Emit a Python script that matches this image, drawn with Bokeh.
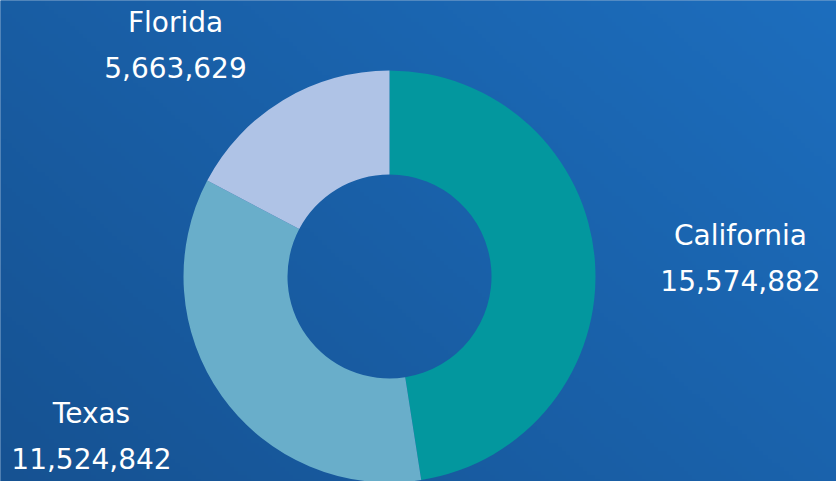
import numpy as np
from bokeh.plotting import figure
from bokeh.models import Range1d, ColumnDataSource
from bokeh.core.properties import value
from bokeh.embed import file_html
from bokeh.resources import INLINE

# ---- data ----
states = ["California", "Texas", "Florida"]
counts = [15574882, 11524842, 5663629]
colors = ["#03979E", "#69AECA", "#AFC3E6"]

# ---- layout ----
W, H = 836, 481
CX, CY = 389, H - 276
R_OUT, R_IN = 206, 102
label_pos = {"California": (740, H - 257), "Texas": (91, H - 435), "Florida": (175, H - 44)}
LINE_GAP = 22.5
FONT = "DejaVu Sans"
FSIZE = "28px"

total = float(sum(counts))
spans = [c / total * 2 * np.pi for c in counts]
starts, ends = [], []
a = np.pi / 2
for s in spans:
    starts.append(a)
    a -= s
    ends.append(a)

p = figure(width=W, height=H, output_backend="svg", toolbar_location=None,
           x_range=Range1d(0, W), y_range=Range1d(0, H), min_border=0)
p.axis.visible = False
p.grid.visible = False
p.outline_line_color = None
p.background_fill_color = "#1A5EA5"
p.border_fill_color = "#1A5EA5"

# background gradient (style only)
gx = np.linspace(0, 1, 200)
gy = np.linspace(0, 1, 120)
X, Y = np.meshgrid(gx, gy)
t = (X * 0.6 + Y * 0.4)
c0 = np.array([22, 82, 146])
c1 = np.array([29, 110, 190])
img = np.zeros((120, 200), dtype=np.uint32)
view = img.view(dtype=np.uint8).reshape((120, 200, 4))
for k in range(3):
    view[:, :, k] = (c0[k] + (c1[k] - c0[k]) * t).astype(np.uint8)
view[:, :, 3] = 255
p.image_rgba(image=[img], x=-2, y=-2, dw=W + 4, dh=H + 4)

src = ColumnDataSource(dict(state=states, count=counts, color=colors,
                            start=starts, end=ends))
p.annular_wedge(x=CX, y=CY, inner_radius=R_IN, outer_radius=R_OUT,
                start_angle="start", end_angle="end", direction="clock",
                fill_color="color", line_color=None, source=src)

lx = [label_pos[s][0] for s in states]
ly = [label_pos[s][1] for s in states]
p.text(x=lx, y=[y + LINE_GAP for y in ly], text=states,
       text_font=value(FONT), text_font_size=FSIZE, text_color="white",
       text_align="center", text_baseline="middle")
p.text(x=lx, y=[y - LINE_GAP for y in ly], text=[f"{c:,}" for c in counts],
       text_font=value(FONT), text_font_size=FSIZE, text_color="white",
       text_align="center", text_baseline="middle")

html = file_html(p, INLINE)
html = html.replace("<head>", "<head><style>html,body{margin:0;padding:0;overflow:hidden}</style>", 1)
open("out.html", "w").write(html)
